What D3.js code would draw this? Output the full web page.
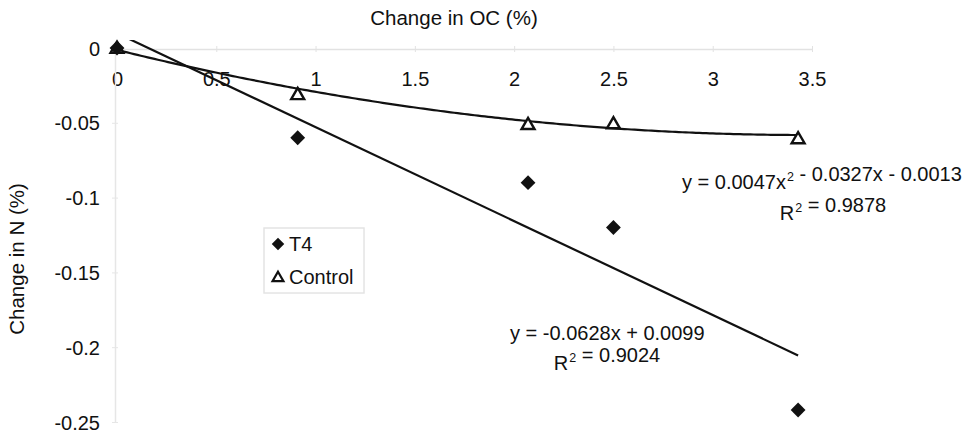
<!DOCTYPE html>
<html>
<head>
<meta charset="utf-8">
<script src="https://cdn.jsdelivr.net/npm/d3@7"></script>
<style>
  body { margin: 0; background: #ffffff; }
  svg { display: block; font-family: "Liberation Sans", Arial, sans-serif; }
</style>
</head>
<body>
<svg id="chart" width="973" height="434"></svg>
<script>
// ---- data ----
const ocChange = [0, 0.91, 2.07, 2.5, 3.43];
const t4Values = [0, -0.06, -0.09, -0.12, -0.242];
const controlValues = [0, -0.031, -0.051, -0.0505, -0.0605];
const xTicks = [0, 0.5, 1, 1.5, 2, 2.5, 3, 3.5];
const yTicks = [0, -0.05, -0.1, -0.15, -0.2, -0.25];
const linearFit = { slope: -0.0628, intercept: 0.0099, r2: "0.9024" };
const polyFit = { a: 0.0047, b: -0.0327, c: -0.0013, r2: "0.9878" };
const seriesNames = ["T4", "Control"];

// ---- layout ----
const svg = d3.select("#chart");
const x = d3.scaleLinear().domain([0, 3.5]).range([117, 812]);
const y = d3.scaleLinear().domain([-0.25, 0]).range([422, 48]);
const ink = "#111";
const fmt = d => String(d);

// clip region for trendlines (plot area)
svg.append("defs").append("clipPath").attr("id", "plotclip")
  .append("rect").attr("x", x(0)).attr("y", 40).attr("width", x(3.5) - x(0)).attr("height", 390);

// faint axes
const xAxis = d3.axisBottom(x).tickValues(xTicks).tickSize(0).tickFormat(fmt);
const gx = svg.append("g").attr("transform", `translate(0,${y(0) + 1})`).call(xAxis);
gx.select(".domain").attr("stroke", "#e2e2e2").attr("stroke-width", 1.5);
gx.selectAll(".tick line").remove();
gx.selectAll(".tick").append("line").attr("y1", -3).attr("y2", 3).attr("stroke", "#e2e2e2");
gx.selectAll(".tick text").attr("font-size", 20).attr("fill", ink).attr("dy", 0).attr("y", 37);

const yAxis = d3.axisLeft(y).tickValues(yTicks).tickSize(0).tickFormat(fmt);
const gy = svg.append("g").attr("transform", `translate(${x(0) - 2},0)`).call(yAxis);
gy.select(".domain").attr("stroke", "#e6e6e6").attr("stroke-width", 1.5);
gy.selectAll(".tick text").attr("font-size", 20).attr("fill", ink).attr("x", -15).attr("dy", "0.35em");
gy.selectAll(".tick").filter(d => d !== 0).append("line").attr("x1", -3).attr("x2", 3).attr("stroke", "#e6e6e6");

// axis titles
svg.append("text").attr("x", 454).attr("y", 25).attr("text-anchor", "middle")
  .attr("font-size", 20.5).attr("fill", ink).text("Change in OC (%)");
svg.append("text").attr("transform", "translate(24,259) rotate(-90)").attr("text-anchor", "middle")
  .attr("font-size", 20.5).attr("fill", ink).text("Change in N (%)");

// trendlines
const xMax = d3.max(ocChange);
const linPts = [0, xMax].map(v => [v, linearFit.slope * v + linearFit.intercept]);
const polyPts = d3.range(0, 201).map(i => {
  const v = xMax * i / 200;
  return [v, polyFit.a * v * v + polyFit.b * v + polyFit.c];
});
const line = d3.line().x(d => x(d[0])).y(d => y(d[1]));
const tl = svg.append("g").attr("clip-path", "url(#plotclip)");
tl.append("path").attr("d", line(linPts)).attr("fill", "none").attr("stroke", ink).attr("stroke-width", 2.2);
tl.append("path").attr("d", line(polyPts)).attr("fill", "none").attr("stroke", ink).attr("stroke-width", 2.2);

// markers
const diamond = d3.symbol().type(d3.symbolDiamond2).size(140);
const triangle = d3.symbol().type(d3.symbolTriangle2).size(120);

svg.append("g").selectAll("path").data(ocChange.map((v, i) => [v, controlValues[i]]))
  .join("path").attr("d", triangle)
  .attr("transform", d => `translate(${x(d[0])},${y(d[1]) + 1})`)
  .attr("fill", "#fff").attr("stroke", ink).attr("stroke-width", 2.4);

svg.append("g").selectAll("path").data(ocChange.map((v, i) => [v, t4Values[i]]))
  .join("path").attr("d", diamond)
  .attr("transform", d => `translate(${x(d[0])},${y(d[1])})`)
  .attr("fill", ink);

// equations
function equation(xPos, yPos, parts, anchor) {
  const t = svg.append("text").attr("x", xPos).attr("y", yPos).attr("font-size", 20)
    .attr("fill", ink).attr("text-anchor", anchor || "start");
  parts.forEach(p => {
    if (p.sup) {
      t.append("tspan").attr("font-size", 12.5).attr("dy", -8).attr("dx", 1).text(p.sup);
      t.append("tspan").attr("dy", 8).attr("dx", 2).text("");
    } else {
      t.append("tspan").text(p.t);
    }
  });
  return t;
}
equation(682, 189, [{ t: `y = ${polyFit.a}x` }, { sup: "2" }, { t: ` - ${Math.abs(polyFit.b)}x - ${Math.abs(polyFit.c)}` }]);
equation(833, 220, [{ t: "R" }, { sup: "2" }, { t: ` = ${polyFit.r2}` }], "middle");
equation(510, 340, [{ t: `y = ${linearFit.slope}x + ${linearFit.intercept}` }]);
equation(607, 370, [{ t: "R" }, { sup: "2" }, { t: ` = ${linearFit.r2}` }], "middle");

// legend
const lg = svg.append("g");
lg.append("rect").attr("x", 264).attr("y", 228).attr("width", 100).attr("height", 65)
  .attr("fill", "none").attr("stroke", "#e4e4e4").attr("stroke-width", 1.5);
const legendRows = [
  { name: seriesNames[0], sym: d3.symbol().type(d3.symbolDiamond2).size(100), fill: ink, y: 244 },
  { name: seriesNames[1], sym: d3.symbol().type(d3.symbolTriangle2).size(85), fill: "#fff", y: 277 }
];
legendRows.forEach(r => {
  lg.append("path").attr("d", r.sym).attr("transform", `translate(278,${r.y + (r.fill === "#fff" ? 1 : 0)})`)
    .attr("fill", r.fill).attr("stroke", r.fill === "#fff" ? ink : "none").attr("stroke-width", 2.2);
  lg.append("text").attr("x", 289).attr("y", r.y).attr("dy", "0.35em").attr("font-size", 20)
    .attr("fill", ink).text(r.name);
});
</script>
</body>
</html>
